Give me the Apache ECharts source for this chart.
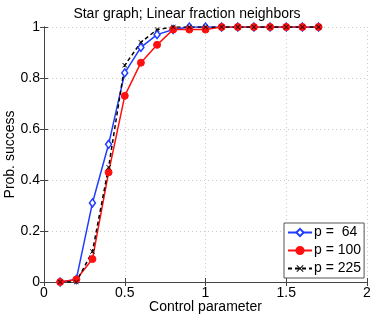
<!DOCTYPE html>
<html>
<head>
<meta charset="utf-8">
<script src="https://cdn.jsdelivr.net/npm/echarts@6/dist/echarts.min.js"></script>
<style>
html,body{margin:0;padding:0;background:#fff;}
#chart{width:374px;height:316px;}
</style>
</head>
<body>
<div id="chart"></div>
<script>
const xValues = [0.1,0.2,0.3,0.4,0.5,0.6,0.7,0.8,0.9,1.0,1.1,1.2,1.3,1.4,1.5,1.6,1.7];
const p64  = [0,0.01,0.31,0.54,0.82,0.92,0.97,0.99,1,1,1,1,1,1,1,1,1];
const p100 = [0,0.01,0.09,0.43,0.73,0.86,0.93,0.99,0.99,0.99,1,1,1,1,1,1,1];
const p225 = [0,0,0.12,0.45,0.85,0.94,0.99,1,1,1,1,1,1,1,1,1,1];
const seriesNames = ['p =  64','p = 100','p = 225'];
const xTicks = [0,0.5,1,1.5,2];
const yTicks = [0,0.2,0.4,0.6,0.8,1];

const pair = arr => xValues.map((x,i)=>[x,arr[i]]);
const FONT = '"Liberation Sans", Arial, Helvetica, sans-serif';
const FS = 14;
const crossPath = 'path://M0,1L1,0L5,4L9,0L10,1L6,5L10,9L9,10L5,6L1,10L0,9L4,5Z';

const chart = echarts.init(document.getElementById('chart'), null, {renderer:'canvas'});
const axisLine = {show:true,lineStyle:{color:'#444',width:1}};
const axisTick = {show:true,inside:true,length:4,lineStyle:{color:'#444'}};
chart.setOption({
  animation:false,
  backgroundColor:'#fff',
  title:{text:'Star graph; Linear fraction neighbors',left:'center',top:2,
    textStyle:{fontFamily:FONT,fontSize:FS,fontWeight:'normal',color:'#000'}},
  grid:{left:44,right:7,top:27,bottom:34,containLabel:false,outerBoundsMode:'none'},
  legend:{
    left:284,top:223,orient:'vertical',
    backgroundColor:'#fff',borderColor:'#555',borderWidth:1,
    padding:[2,3,2,3],itemGap:3,itemWidth:24,itemHeight:9,
    textStyle:{fontFamily:FONT,fontSize:FS,color:'#000',padding:[0,0,0,-3],lineHeight:15},
    data:seriesNames
  },
  xAxis:[
    {type:'value',min:0,max:2,interval:0.5,position:'bottom',
      name:'Control parameter',nameLocation:'middle',nameGap:18,nameMoveOverlap:false,
      nameTextStyle:{fontFamily:FONT,fontSize:FS,color:'#000'},
      axisLabel:{fontFamily:FONT,fontSize:FS,color:'#000',margin:4,
        formatter:v=>String(v)},
      axisLine:axisLine,axisTick:axisTick,
      splitLine:{show:true,lineStyle:{color:'#ccc',type:[1,3],width:1}}},
    {type:'value',min:0,max:2,interval:0.5,position:'top',
      axisLabel:{show:false},axisLine:axisLine,axisTick:axisTick,splitLine:{show:false}}
  ],
  yAxis:[
    {type:'value',min:0,max:1,interval:0.2,position:'left',
      name:'Prob. success',nameLocation:'middle',nameGap:27,nameMoveOverlap:false,
      nameTextStyle:{fontFamily:FONT,fontSize:FS,color:'#000'},
      axisLabel:{fontFamily:FONT,fontSize:FS,color:'#000',margin:4,
        formatter:v=>String(Math.round(v*10)/10)},
      axisLine:axisLine,axisTick:axisTick,
      splitLine:{show:true,lineStyle:{color:'#ccc',type:[1,3],width:1}}},
    {type:'value',min:0,max:1,interval:0.2,position:'right',
      axisLabel:{show:false},axisLine:axisLine,axisTick:axisTick,splitLine:{show:false}}
  ],
  series:[
    {name:seriesNames[0],type:'line',data:pair(p64),
      symbol:'diamond',symbolSize:[6,8],showAllSymbol:true,
      lineStyle:{color:'#1f3cff',width:1.5},
      itemStyle:{color:'#fff',borderColor:'#1f3cff',borderWidth:1.5}},
    {name:seriesNames[1],type:'line',data:pair(p100),
      symbol:'circle',symbolSize:7,showAllSymbol:true,
      lineStyle:{color:'#ff1010',width:1.5},
      itemStyle:{color:'#ff1010',borderColor:'#ff1010',borderWidth:1}},
    {name:seriesNames[2],type:'line',data:pair(p225),
      symbol:crossPath,symbolSize:5,showAllSymbol:true,
      lineStyle:{color:'#000',width:1.5,type:[4,3]},
      itemStyle:{color:'#000',borderWidth:0}}
  ]
});
</script>
</body>
</html>
